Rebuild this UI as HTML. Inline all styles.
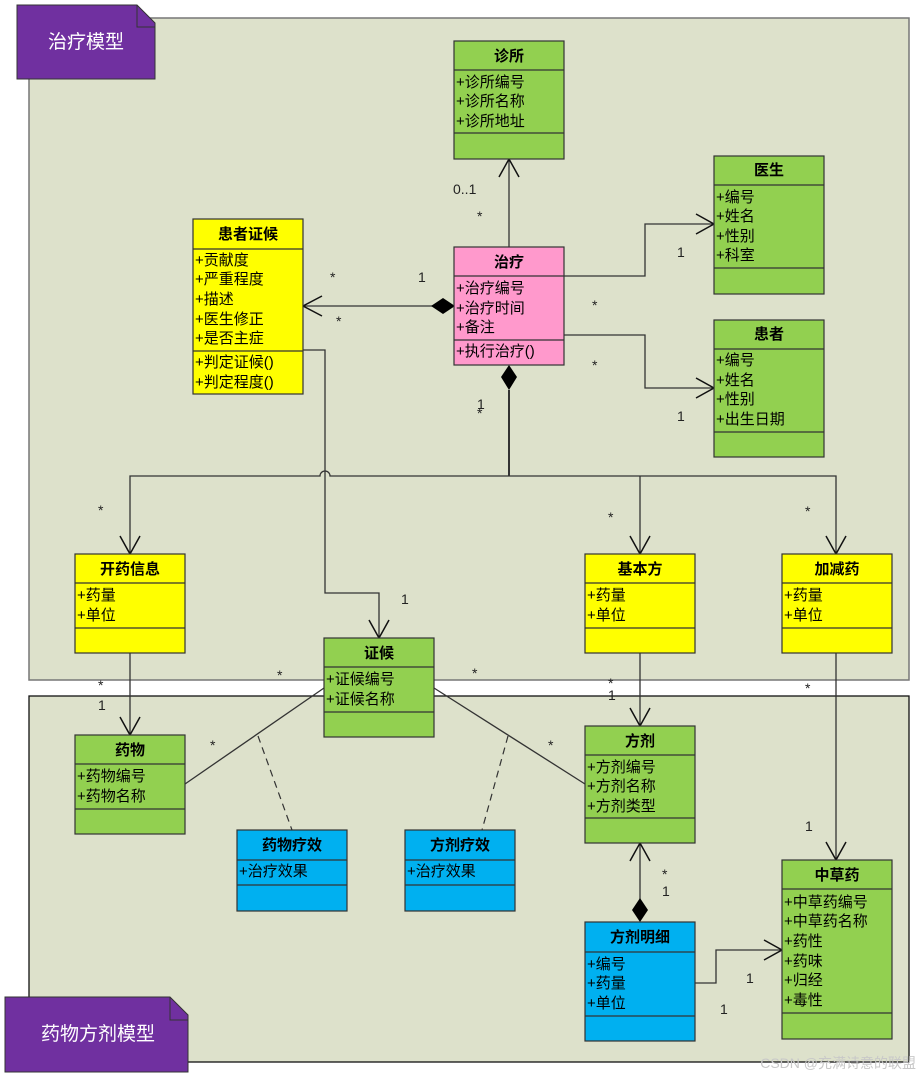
<!DOCTYPE html>
<html><head><meta charset="utf-8">
<style>
html,body{margin:0;padding:0;background:#fff;}
svg{display:block;}
text{font-family:"Liberation Sans","Noto Sans CJK SC",sans-serif;}
.t{font-size:15px;font-weight:bold;fill:#000;}
.a{font-size:15px;fill:#000;}
.m{font-size:14px;fill:#222;}
.ln{stroke:#333;stroke-width:1.3;fill:none;}
.ar{stroke:#111;stroke-width:1.5;fill:none;}
</style></head><body>
<svg width="921" height="1077" viewBox="0 0 921 1077" xmlns="http://www.w3.org/2000/svg">
<!-- panels -->
<rect x="29" y="18" width="880" height="662" fill="#dde1cb" stroke="#777" stroke-width="1.5"/>
<rect x="29" y="696" width="880" height="366" fill="#dde1cb" stroke="#111" stroke-width="1.3"/>
<!-- package tabs -->
<path d="M17,5 H137 L155,23 V79 H17 Z" fill="#7030a0" stroke="#333" stroke-width="1"/>
<path d="M137,5 V27 H155" fill="none" stroke="#333" stroke-width="1"/>
<text x="86" y="48" text-anchor="middle" style="font-size:19px;fill:#fff;">治疗模型</text>
<path d="M5,997 H170 L188,1015 V1072 H5 Z" fill="#7030a0" stroke="#333" stroke-width="1"/>
<path d="M170,997 V1020 H188" fill="none" stroke="#333" stroke-width="1"/>
<text x="98" y="1040" text-anchor="middle" style="font-size:19px;fill:#fff;">药物方剂模型</text>

<!-- connectors -->
<g class="ln">
<line x1="509" y1="247" x2="509" y2="159"/>
<polyline points="564,276 645,276 645,224 714,224"/>
<polyline points="564,335 645,335 645,388 714,388"/>
<line x1="438" y1="306" x2="303" y2="306"/>
<line x1="509" y1="390" x2="509" y2="476" style="stroke-width:2"/>
<path d="M130,554 V476 H320 A5,5 0 0 1 330,476 H836 V554"/>
<line x1="640" y1="476" x2="640" y2="554"/>
<polyline points="303,350 325,350 325,593 379,593 379,638"/>
<line x1="130" y1="653" x2="130" y2="735"/>
<line x1="640" y1="653" x2="640" y2="726"/>
<line x1="836" y1="653" x2="836" y2="860"/>
<line x1="324" y1="688" x2="185" y2="784"/>
<line x1="434" y1="688" x2="585" y2="784"/>
<line x1="640" y1="900" x2="640" y2="843"/>
<polyline points="695,983 716,983 716,950 782,950"/>
</g>
<g stroke="#333" stroke-width="1.2" stroke-dasharray="7,5" fill="none">
<line x1="258" y1="736" x2="292" y2="830"/>
<line x1="508" y1="736" x2="482" y2="830"/>
</g>
<!-- arrowheads -->
<g class="ar">
<polyline points="499,177 509,159 519,177"/>
<polyline points="696,214 714,224 696,234"/>
<polyline points="696,378 714,388 696,398"/>
<polyline points="322,296 303,306 322,316"/>
<polyline points="120,536 130,554 140,536"/>
<polyline points="630,536 640,554 650,536"/>
<polyline points="826,536 836,554 846,536"/>
<polyline points="369,620 379,638 389,620"/>
<polyline points="120,717 130,735 140,717"/>
<polyline points="630,708 640,726 650,708"/>
<polyline points="826,842 836,860 846,842"/>
<polyline points="630,861 640,843 650,861"/>
<polyline points="764,940 782,950 764,960"/>
</g>
<!-- diamonds -->
<path d="M431,306 L443,298 L455,306 L443,314 Z" fill="#000"/>
<path d="M509,365 L517,377 L509,390 L501,377 Z" fill="#000"/>
<path d="M640,898 L648,910 L640,922 L632,910 Z" fill="#000"/>

<!-- multiplicity labels -->
<g class="m">
<text x="453" y="194">0..1</text>
<text x="477" y="221">*</text>
<text x="677" y="257">1</text>
<text x="592" y="310">*</text>
<text x="592" y="370">*</text>
<text x="677" y="421">1</text>
<text x="330" y="282">*</text>
<text x="418" y="282">1</text>
<text x="336" y="326">*</text>
<text x="477" y="409">1</text>
<text x="477" y="418">*</text>
<text x="98" y="515">*</text>
<text x="608" y="522">*</text>
<text x="805" y="516">*</text>
<text x="401" y="604">1</text>
<text x="98" y="690">*</text>
<text x="98" y="710">1</text>
<text x="277" y="680">*</text>
<text x="472" y="678">*</text>
<text x="608" y="688">*</text>
<text x="608" y="700">1</text>
<text x="805" y="693">*</text>
<text x="210" y="750">*</text>
<text x="548" y="750">*</text>
<text x="805" y="831">1</text>
<text x="662" y="879">*</text>
<text x="662" y="896">1</text>
<text x="746" y="983">1</text>
<text x="720" y="1014">1</text>
</g>

<!-- classes -->
<g stroke="#333" stroke-width="1.2">
<!-- 诊所 -->
<rect x="454" y="41" width="110" height="118" fill="#92d050"/>
<line x1="454" y1="70" x2="564" y2="70"/><line x1="454" y1="133" x2="564" y2="133"/>
<!-- 医生 -->
<rect x="714" y="156" width="110" height="138" fill="#92d050"/>
<line x1="714" y1="185" x2="824" y2="185"/><line x1="714" y1="268" x2="824" y2="268"/>
<!-- 患者 -->
<rect x="714" y="320" width="110" height="137" fill="#92d050"/>
<line x1="714" y1="349" x2="824" y2="349"/><line x1="714" y1="432" x2="824" y2="432"/>
<!-- 治疗 -->
<rect x="454" y="247" width="110" height="118" fill="#ff99cc"/>
<line x1="454" y1="276" x2="564" y2="276"/><line x1="454" y1="340" x2="564" y2="340"/>
<!-- 患者证候 -->
<rect x="193" y="219" width="110" height="175" fill="#ffff00"/>
<line x1="193" y1="249" x2="303" y2="249"/><line x1="193" y1="351" x2="303" y2="351"/>
<!-- 开药信息 -->
<rect x="75" y="554" width="110" height="99" fill="#ffff00"/>
<line x1="75" y1="583" x2="185" y2="583"/><line x1="75" y1="628" x2="185" y2="628"/>
<!-- 基本方 -->
<rect x="585" y="554" width="110" height="99" fill="#ffff00"/>
<line x1="585" y1="583" x2="695" y2="583"/><line x1="585" y1="628" x2="695" y2="628"/>
<!-- 加减药 -->
<rect x="782" y="554" width="110" height="99" fill="#ffff00"/>
<line x1="782" y1="583" x2="892" y2="583"/><line x1="782" y1="628" x2="892" y2="628"/>
<!-- 证候 -->
<rect x="324" y="638" width="110" height="99" fill="#92d050"/>
<line x1="324" y1="667" x2="434" y2="667"/><line x1="324" y1="712" x2="434" y2="712"/>
<!-- 药物 -->
<rect x="75" y="735" width="110" height="99" fill="#92d050"/>
<line x1="75" y1="764" x2="185" y2="764"/><line x1="75" y1="809" x2="185" y2="809"/>
<!-- 方剂 -->
<rect x="585" y="726" width="110" height="117" fill="#92d050"/>
<line x1="585" y1="755" x2="695" y2="755"/><line x1="585" y1="818" x2="695" y2="818"/>
<!-- 药物疗效 -->
<rect x="237" y="830" width="110" height="81" fill="#00b0f0"/>
<line x1="237" y1="860" x2="347" y2="860"/><line x1="237" y1="885" x2="347" y2="885"/>
<!-- 方剂疗效 -->
<rect x="405" y="830" width="110" height="81" fill="#00b0f0"/>
<line x1="405" y1="860" x2="515" y2="860"/><line x1="405" y1="885" x2="515" y2="885"/>
<!-- 方剂明细 -->
<rect x="585" y="922" width="110" height="119" fill="#00b0f0"/>
<line x1="585" y1="952" x2="695" y2="952"/><line x1="585" y1="1016" x2="695" y2="1016"/>
<!-- 中草药 -->
<rect x="782" y="860" width="110" height="179" fill="#92d050"/>
<line x1="782" y1="889" x2="892" y2="889"/><line x1="782" y1="1013" x2="892" y2="1013"/>
</g>

<!-- class titles -->
<g class="t" text-anchor="middle">
<text x="509" y="61">诊所</text>
<text x="769" y="175">医生</text>
<text x="769" y="339">患者</text>
<text x="509" y="267">治疗</text>
<text x="248" y="239">患者证候</text>
<text x="130" y="574">开药信息</text>
<text x="640" y="574">基本方</text>
<text x="837" y="574">加减药</text>
<text x="379" y="658">证候</text>
<text x="130" y="755">药物</text>
<text x="640" y="746">方剂</text>
<text x="292" y="850">药物疗效</text>
<text x="460" y="850">方剂疗效</text>
<text x="640" y="942">方剂明细</text>
<text x="837" y="880">中草药</text>
</g>

<!-- attributes -->
<g class="a">
<text x="456" y="87">+诊所编号</text><text x="456" y="106">+诊所名称</text><text x="456" y="126">+诊所地址</text>
<text x="716" y="202">+编号</text><text x="716" y="221">+姓名</text><text x="716" y="241">+性别</text><text x="716" y="260">+科室</text>
<text x="716" y="365">+编号</text><text x="716" y="385">+姓名</text><text x="716" y="404">+性别</text><text x="716" y="424">+出生日期</text>
<text x="456" y="293">+治疗编号</text><text x="456" y="313">+治疗时间</text><text x="456" y="332">+备注</text><text x="456" y="356">+执行治疗()</text>
<text x="195" y="265">+贡献度</text><text x="195" y="284">+严重程度</text><text x="195" y="304">+描述</text><text x="195" y="324">+医生修正</text><text x="195" y="343">+是否主症</text>
<text x="195" y="367">+判定证候()</text><text x="195" y="387">+判定程度()</text>
<text x="77" y="600">+药量</text><text x="77" y="620">+单位</text>
<text x="587" y="600">+药量</text><text x="587" y="620">+单位</text>
<text x="784" y="600">+药量</text><text x="784" y="620">+单位</text>
<text x="326" y="684">+证候编号</text><text x="326" y="704">+证候名称</text>
<text x="77" y="781">+药物编号</text><text x="77" y="801">+药物名称</text>
<text x="587" y="772">+方剂编号</text><text x="587" y="791">+方剂名称</text><text x="587" y="811">+方剂类型</text>
<text x="239" y="876">+治疗效果</text>
<text x="407" y="876">+治疗效果</text>
<text x="587" y="969">+编号</text><text x="587" y="988">+药量</text><text x="587" y="1008">+单位</text>
<text x="784" y="907">+中草药编号</text><text x="784" y="926">+中草药名称</text><text x="784" y="946">+药性</text><text x="784" y="966">+药味</text><text x="784" y="985">+归经</text><text x="784" y="1005">+毒性</text>
</g>
<text x="916" y="1068" text-anchor="end" style="font-size:14px;fill:#c8c8c8;">CSDN @充满诗意的联盟</text>
</svg>
</body></html>
